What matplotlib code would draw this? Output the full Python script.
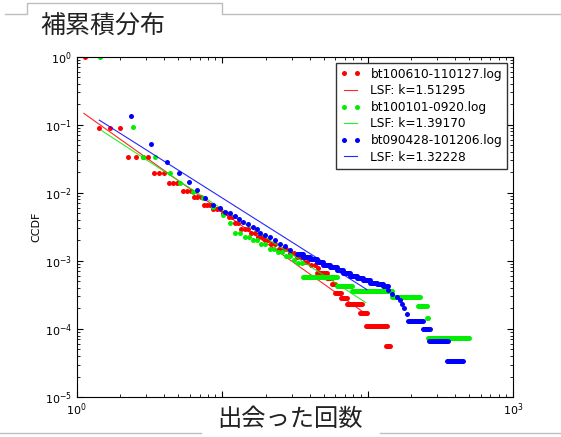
import matplotlib
matplotlib.use("Agg")
import matplotlib.pyplot as plt
from matplotlib.lines import Line2D

# ---------------------------------------------------------------
# data (CCDF of meeting counts, three logs)
# ---------------------------------------------------------------
red_label = "bt100610-110127.log"
red_x = [1.14, 1.42, 1.69, 1.99, 2.26, 2.56, 2.84, 3.11, 3.40, 3.68, 3.98,
         4.31, 4.59, 4.90, 5.41, 5.76, 6.11, 6.41, 6.75, 7.10, 7.51, 7.87,
         8.26, 8.66, 9.15, 9.68, 10.1, 10.6, 11.2, 11.7, 12.3, 12.9, 13.5,
         14.3, 15.1, 15.8, 16.7, 17.7, 18.7, 19.7, 20.7, 21.7, 23.1, 24.6,
         26.2, 27.7, 29.3, 31.0, 32.7, 34.6, 36.6, 38.6, 40.8, 43.2, 45.7]
red_y = [1.0, 0.0885, 0.0885, 0.0885, 0.0332, 0.0332, 0.0332, 0.0332,
         0.0197, 0.0197, 0.0197, 0.01375, 0.01375, 0.01375, 0.0107, 0.0107,
         0.0107, 0.00865, 0.00865, 0.00865, 0.00659, 0.00659, 0.00659,
         0.0057, 0.0057, 0.0057, 0.00508, 0.00508, 0.00444, 0.00444,
         0.00362, 0.00362, 0.00299, 0.00299, 0.00299, 0.00253, 0.00253,
         0.00221, 0.00221, 0.00201, 0.00201, 0.0018, 0.0018, 0.00152,
         0.00152, 0.00152, 0.00132, 0.00132, 0.00115, 0.00115, 0.000966,
         0.000966, 0.000865, 0.000865, 0.000773]
# flat runs in the tail (same CCDF value over a range of counts)
red_run_y = [0.000653, 0.000551, 0.000462, 0.000338, 0.000283, 0.000229,
             0.00017, 0.000111, 5.62e-5]
red_run_x0 = [45.2, 52.6, 56.7, 59.8, 65.8, 72.3, 88.8, 97.7, 134]
red_run_x1 = [52.6, 57.0, 59.8, 65.8, 72.3, 91.6, 99.1, 136, 143]
red_k = "1.51295"
red_fit_x = [1.12, 93.1]
red_fit_y = [0.147, 1.78e-4]

green_label = "bt100101-0920.log"
green_x = [1.45, 2.45, 2.87, 3.46, 4.38, 5.13, 6.34, 7.43, 8.69, 10.2, 11.3,
           12.3, 13.3, 14.4, 15.3, 16.3, 17.4, 18.5, 19.7, 21.3, 22.7, 24.2,
           25.8, 27.5, 29.3, 31.2, 33.3, 35.5]
green_y = [1.0, 0.0935, 0.0332, 0.0332, 0.0193, 0.01375, 0.01035, 0.00828,
           0.00622, 0.0047, 0.00355, 0.00253, 0.00253, 0.00225, 0.00225,
           0.00206, 0.00206, 0.0018, 0.0018, 0.00152, 0.00152, 0.00136,
           0.00136, 0.00119, 0.00119, 0.00102, 0.000941, 0.000941]
green_run_y = [0.00057, 0.000432, 0.000362, 0.000292, 0.000219, 0.000146, 7.35e-5]
green_run_x0 = [36.2, 61.4, 78.2, 147, 223, 257, 261]
green_run_x1 = [61.4, 78.2, 147, 230, 255, 261, 499]
green_k = "1.39170"
green_fit_x = [1.49, 97.2]
green_fit_y = [0.0816, 2.44e-4]

blue_label = "bt090428-101206.log"
blue_x = [2.35, 3.23, 4.16, 5.08, 5.95, 6.75, 7.63, 8.69, 9.68, 10.5, 11.3,
          12.3, 13.1, 14.0, 15.1, 16.4, 17.3, 18.2, 19.7, 21.3, 23.1, 25.0,
          27.0, 29.3, 139, 147, 159, 167, 172, 178, 188]
blue_y = [0.134, 0.0515, 0.0286, 0.0197, 0.0145, 0.011, 0.00849, 0.00659,
          0.0059, 0.00526, 0.00498, 0.00454, 0.00406, 0.00375, 0.00347,
          0.00316, 0.0029, 0.00253, 0.00239, 0.00221, 0.00206, 0.0018,
          0.00164, 0.00144, 0.000371, 0.00033, 0.000296, 0.00027, 0.000236,
          0.0002, 0.000164]
# the blue tail is a dense staircase, kept as runs
blue_run_y = [0.00128, 0.00115, 0.00105, 0.000966, 0.000865, 0.000817,
              0.00073, 0.000653, 0.000596, 0.000551, 0.00052, 0.000474,
              0.000454, 0.000425, 0.000132, 0.0001, 6.67e-5, 3.35e-5]
blue_run_x0 = [32.6, 36.2, 40.3, 44.8, 49.7, 55.2, 61.4, 68.2, 75.9, 84.3,
               93.5, 104, 116, 128, 191, 240, 266, 351]
blue_run_x1 = [36.2, 40.3, 44.8, 49.7, 55.2, 61.4, 68.2, 75.9, 84.3, 93.5,
               104, 116, 128, 139, 242, 270, 358, 456]
blue_k = "1.32228"
blue_fit_x = [1.43, 98.7]
blue_fit_y = [0.117, 3.8e-4]

series = [
    ("#ff0000", red_label, red_x, red_y, red_run_y, red_run_x0, red_run_x1, red_k, red_fit_x, red_fit_y),
    ("#00ee00", green_label, green_x, green_y, green_run_y, green_run_x0, green_run_x1, green_k, green_fit_x, green_fit_y),
    ("#0000ff", blue_label, blue_x, blue_y, blue_run_y, blue_run_x0, blue_run_x1, blue_k, blue_fit_x, blue_fit_y),
]

x_ticks = [1, 10, 100, 1000]
# the middle labels are hidden behind the slide's text box in the original
x_ticklabels = [r"$\mathdefault{10^{0}}$", "", "", r"$\mathdefault{10^{3}}$"]

TITLE = "補累積分布"
XLABEL = "出会った回数"
JP = ["Noto Sans CJK JP", "DejaVu Sans"]

plt.rcParams["font.family"] = ["DejaVu Sans", "Noto Sans CJK JP"]

W, H = 561, 437
fig = plt.figure(figsize=(W / 100, H / 100), dpi=100)
fig.patch.set_facecolor("white")

ax = fig.add_axes([76.7 / W, 1 - 397 / H, (513 - 76.7) / W, (397 - 56.7) / H])

DOT = 3.6
for col, lab, xs, ys, ry, rx0, rx1, k, fx, fy in series:
    ax.plot(xs, ys, "o", color=col, ms=DOT, mew=0, label=lab)
    ax.hlines(ry, rx0, rx1, colors=col, lw=DOT, capstyle="round")
    ax.plot(fx, fy, "-", color=col, lw=0.8, alpha=0.85, label="LSF: k=" + k)

ax.set_xscale("log")
ax.set_yscale("log")
ax.set_xlim(1, 1000)
ax.set_ylim(1e-5, 1)
ax.set_xticks(x_ticks, labels=x_ticklabels)
ax.tick_params(which="both", direction="in", top=True, right=True, labelsize=8)
ax.tick_params(which="major", length=4)
ax.tick_params(which="minor", length=2)
ax.set_ylabel("CCDF", fontsize=8)
ax.yaxis.set_label_coords(-0.08, 0.5)

leg = ax.legend(loc="upper right", numpoints=2, fontsize=8.7, handlelength=1.65,
                handletextpad=0.8, labelspacing=0.3, borderpad=0.4,
                borderaxespad=0.5, fancybox=False, framealpha=1)
leg.get_frame().set_edgecolor("#333333")
leg.get_frame().set_linewidth(1.0)

# ---- slide decorations (tab on top, text box line at the bottom) ----
gray = "#bdbdbd"
def px_line(xs, ys):
    fig.add_artist(Line2D([x / W for x in xs], [1 - y / H for y in ys],
                          transform=fig.transFigure, color=gray, lw=1))

px_line([5, 26.7, 26.7, 221.7, 221.7, 561], [14, 14, 3.3, 3.3, 14, 14])
px_line([0, 201], [433, 433])
px_line([380, 561], [433, 433])

fig.text(102.5 / W, 1 - 26.7 / H, TITLE, family=JP, fontsize=18,
         ha="center", va="center", color="#222222")
fig.text(290 / W, 1 - 419.5 / H, XLABEL, family=JP, fontsize=17.5,
         ha="center", va="center", color="#222222")

fig.savefig("out.png", dpi=100)
